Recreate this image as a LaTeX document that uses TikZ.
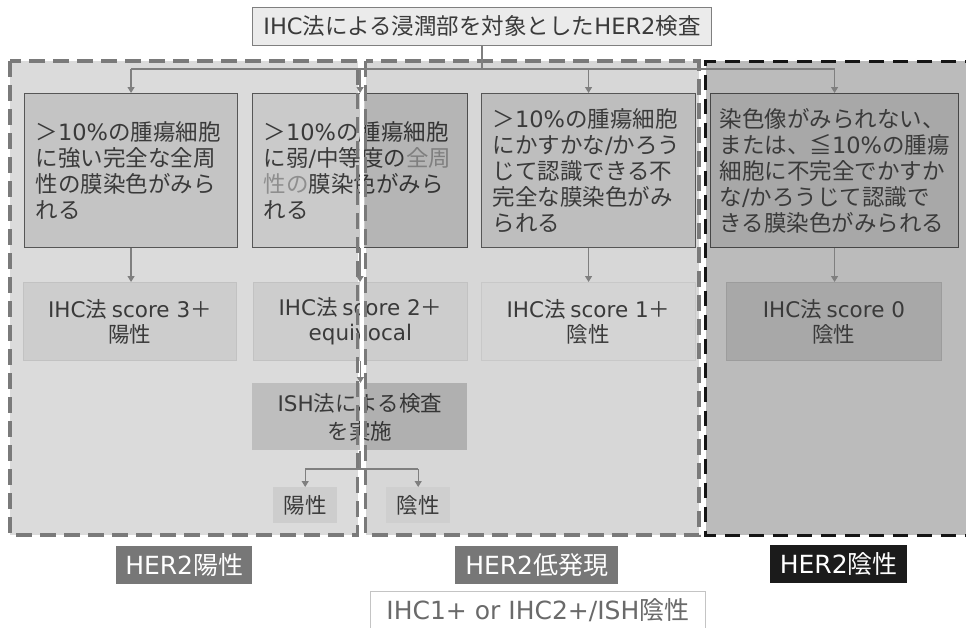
\documentclass[tikz,border=0pt]{standalone}
\usepackage{fontspec}
\setmainfont{Noto Sans CJK JP}
\newfontfamily\latfont{DejaVu Sans}
\newcommand\latn[1]{{\latfont #1}}
\usetikzlibrary{arrows.meta}
\definecolor{regL}{HTML}{DBDBDB}
\definecolor{regM}{HTML}{D7D7D7}
\definecolor{regR}{HTML}{BBBBBB}
\definecolor{dashg}{HTML}{7A7A7A}
\definecolor{dashk}{HTML}{151515}
\definecolor{txt}{HTML}{3A3A3A}
\definecolor{fade}{HTML}{8E8E8E}
\definecolor{lineg}{HTML}{7F7F7F}
\definecolor{bord}{HTML}{565656}
\definecolor{bordk}{HTML}{464646}
\definecolor{topfill}{HTML}{EBEBEB}
\definecolor{labg}{HTML}{777777}
\definecolor{labk}{HTML}{1B1B1B}
\definecolor{notetxt}{HTML}{6A6A6A}
\definecolor{notebord}{HTML}{C4C4C4}
\definecolor{fb1}{HTML}{C4C4C4}
\definecolor{fb2}{HTML}{CACACA}
\definecolor{fb3}{HTML}{BEBEBE}
\definecolor{fb4}{HTML}{A8A8A8}
\definecolor{fs1}{HTML}{CDCDCD}
\definecolor{ds1}{HTML}{C2C2C2}
\definecolor{fs3}{HTML}{D4D4D4}
\definecolor{ds3}{HTML}{C8C8C8}
\definecolor{fs4}{HTML}{A8A8A8}
\definecolor{ds4}{HTML}{9C9C9C}
\definecolor{fish}{HTML}{BEBEBE}
\definecolor{fpos}{HTML}{CDCDCD}
\definecolor{fneg}{HTML}{CFCFCF}
\tikzset{
  region/.style={line width=3.5pt, dash pattern=on 16pt off 8pt},
  crit/.style={draw=bord, line width=1.1pt, anchor=north west, inner xsep=11pt, inner ysep=0pt,
    align=left, text=txt, font=\fontsize{22.5}{26}\selectfont, minimum height=154pt},
  score/.style={line width=0.8pt, anchor=north west, inner sep=0pt, align=center, text=txt,
    font=\fontsize{21.5}{25}\selectfont, minimum height=78pt},
  small/.style={anchor=north west, inner sep=0pt, align=center, text=txt,
    font=\fontsize{21.5}{25}\selectfont, minimum width=64pt, minimum height=36pt, fill=#1},
  label/.style={anchor=north west, inner sep=0pt, align=center, text=white,
    font=\fontsize{25}{28}\selectfont, minimum height=38pt, fill=#1},
  conn/.style={draw=lineg, line width=1.2pt},
  arr/.style={conn, -{Triangle[width=7pt,length=6pt]}},
}
\begin{document}
\begin{tikzpicture}[x=1pt,y=-1pt]
\useasboundingbox (0,0) rectangle (966,627);
\clip (0,0) rectangle (966,627);
% regions
\fill[regL] (10,61) rectangle (357.5,535);
\fill[regM] (365.5,61) rectangle (699,535);
\fill[regR] (705.5,61) rectangle (980,535);
% top box
\node[draw=lineg, line width=0.9pt, fill=topfill, anchor=north west, minimum width=459pt, minimum height=38pt,
  inner sep=0pt, text=txt, font=\fontsize{22.5}{26}\selectfont] (top) at (252,7)
  {\latn{IHC}法による浸潤部を対象とした\latn{HER2}検査};
% criteria boxes
\node[crit, fill=fb1, text width=191pt] (b1) at (24,93)
  {＞\latn{10\%}の腫瘍細胞\\に強い完全な全周\\性の膜染色がみら\\れる};
\node[crit, fill=fb2, text width=193pt] (b2) at (252,93)
  {＞\latn{10\%}の腫瘍細胞\\に弱\latn{/}中等度の\textcolor{fade}{全周}\\\textcolor{fade}{性の}膜染色がみら\\れる};
\node[crit, fill=fb3, text width=192pt] (b3) at (481,93)
  {＞\latn{10\%}の腫瘍細胞\\にかすかな\latn{/}かろう\\じて認識できる不\\完全な膜染色がみ\\られる};
\node[crit, fill=fb4, draw=bordk, inner xsep=9pt, text width=230pt] (b4) at (710,93)
  {染色像がみられない、\\または、≦\latn{10\%}の腫瘍\\細胞に不完全でかすか\\な\latn{/}かろうじて認識で\\きる膜染色がみられる};
% score boxes
\node[score, fill=fs1, draw=ds1, minimum width=213pt] (s1) at (23,282)
  {\latn{IHC}法 \latn{score 3}＋\\陽性};
\node[score, fill=fs1, draw=ds1, minimum width=214pt] (s2) at (253,282)
  {\latn{IHC}法 \latn{score 2}＋\\\latn{equivocal}};
\node[score, fill=fs3, draw=ds3, minimum width=214pt] (s3) at (481,282)
  {\latn{IHC}法 \latn{score 1}＋\\陰性};
\node[score, fill=fs4, draw=ds4, minimum width=215pt] (s4) at (726,282)
  {\latn{IHC}法 \latn{score 0}\\陰性};
% ISH box
\node[score, fill=fish, minimum width=215pt, minimum height=67pt,
  font=\fontsize{21.5}{28}\selectfont] (ish) at (252,383)
  {\latn{ISH}法による検査\\を実施};
% results
\node[small=fpos] (pos) at (273,487) {陽性};
\node[small=fneg] (neg) at (386,487) {陰性};
% darker overlay where middle region overlaps
\fill[black, opacity=0.1] (365,93) rectangle (467.5,247.5);
\fill[black, opacity=0.07] (365,383) rectangle (467,450);
% white stripe
\fill[white] (359.5,61) rectangle (363.8,536);
% dashed borders
\draw[region, draw=dashg] (10,61) rectangle (357.5,535);
\draw[region, draw=dashg] (365.5,61) rectangle (699,535);
\draw[line width=3pt, dash pattern=on 15pt off 9pt, draw=dashk] (980,61) -- (705.5,61) -- (705.5,535) -- (980,535);
% connectors
\coordinate (bus) at (481,69);
\coordinate (split) at (359,469);
\draw[conn] (top.south) -- (top.south |- bus);
\draw[conn] (b1.north |- bus) -- (b4.north |- bus);
\draw[arr] (b1.north |- bus) -- (b1.north);
\draw[arr] (b2.north |- bus) -- (b2.north);
\draw[arr] (b3.north |- bus) -- (b3.north);
\draw[arr] (b4.north |- bus) -- (b4.north);
\draw[arr] (b1.south) -- (b1.south |- s1.north);
\draw[arr] (b2.south) -- (b2.south |- s2.north);
\draw[arr] (b3.south) -- (b3.south |- s3.north);
\draw[arr] (b4.south) -- (b4.south |- s4.north);
\draw[arr] (s2.south) -- (s2.south |- ish.north);
\draw[conn] (ish.south) -- (ish.south |- split);
\draw[conn] (pos.north |- split) -- (neg.north |- split);
\draw[arr] (pos.north |- split) -- (pos.north);
\draw[arr] (neg.north |- split) -- (neg.north);
% bottom labels
\node[label=labg, minimum width=136pt] (l1) at (116,546) {\latn{HER2}陽性};
\node[label=labg, minimum width=163pt] (l2) at (455,546) {\latn{HER2}低発現};
\node[label=labk, minimum width=137pt] (l3) at (770,545) {\latn{HER2}陰性};
\node[draw=notebord, line width=0.8pt, fill=white, anchor=north west, inner sep=0pt, minimum width=335pt,
  minimum height=37pt, text=notetxt, font=\fontsize{25}{28}\selectfont] (note) at (370,591)
  {\latn{IHC1+ or IHC2+/ISH}陰性};
\end{tikzpicture}
\end{document}
